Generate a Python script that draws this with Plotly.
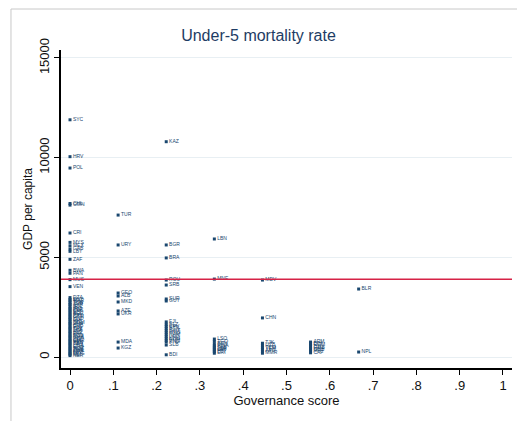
import plotly.graph_objects as go

# Governance score (k/9 levels) per country
countries = [
    "SYC", "HRV", "POL", "CHL", "OMN", "CRI", "MYS", "MEX", "GAB", "LBY",
    "ZAF", "BWA", "PAN", "MUS", "VEN",
    "DZA", "EGY", "MAR", "TUN", "JOR", "SYR", "IRN", "IRQ", "PER", "COL",
    "ECU", "BOL", "PRY", "GTM", "HND", "SLV", "NIC", "DOM", "JAM", "CUB",
    "PHL", "IDN", "THA", "LKA", "IND", "PAK", "BGD", "NGA", "GHA", "CIV",
    "CMR", "SEN", "KEN", "TZA", "UGA", "ETH", "MOZ", "ZMB", "ZWE", "MWI",
    "MDG", "MLI", "NER",
    "TUR", "URY", "GEO", "ALB", "MKD", "AZE", "UKR", "MDA", "KGZ",
    "KAZ", "BGR", "BRA", "ROU", "SRB", "SUR", "GUY", "FJI", "BLZ", "CPV",
    "BTN", "SWZ", "MNG", "NAM", "LAO", "KHM", "VNM", "PNG", "SLB", "BDI",
    "LBN", "MNE", "LSO", "TGO", "BEN", "RWA", "SLE", "LBR", "GIN", "HTI", "ERI",
    "MDV", "CHN", "TJK", "UZB", "TKM", "YEM", "AFG", "MMR",
    "ARM", "BIH", "COM", "DJI", "GMB", "GNB", "MRT", "CAF",
    "BLR", "NPL",
]
governance = (
    [0.0] * 58
    + [1 / 9] * 9
    + [2 / 9] * 20
    + [3 / 9] * 11
    + [4 / 9] * 8
    + [5 / 9] * 8
    + [6 / 9] * 2
)
gdp_per_capita = [
    11900, 10050, 9480, 7700, 7620, 6220, 5750, 5580, 5420, 5300,
    4900, 4350, 4200, 3880, 3530,
    2980, 2890, 2830, 2740, 2660, 2610, 2520, 2440, 2390, 2300,
    2240, 2150, 2090, 2010, 1940, 1880, 1790, 1720, 1660, 1590,
    1510, 1440, 1390, 1300, 1240, 1170, 1090, 1030, 960, 890,
    830, 760, 690, 640, 560, 500, 430, 370, 300, 240,
    180, 120, 70,
    7120, 5620, 3210, 3060, 2760, 2310, 2160, 750, 450,
    10800, 5620, 4970, 3860, 3610, 2910, 2810, 1760, 1640, 1540,
    1440, 1340, 1240, 1140, 1040, 940, 840, 750, 600, 110,
    5920, 3910, 900, 780, 640, 560, 480, 410, 340, 270, 190,
    3860, 1960, 690, 590, 480, 390, 290, 190,
    750, 680, 600, 520, 440, 370, 290, 210,
    3410, 250,
]

reference_line = 3900

fig = go.Figure()
fig.add_trace(go.Scatter(
    x=governance, y=gdp_per_capita, text=countries,
    mode="markers+text", textposition="middle right",
    marker=dict(size=3, color="#1a476f", symbol="square"),
    textfont=dict(size=5, color="#1a476f", family="Liberation Sans"),
    cliponaxis=False, showlegend=False,
))

fig.add_shape(type="line", xref="paper", yref="y", x0=0, x1=1,
              y0=reference_line, y1=reference_line,
              line=dict(color="#d62246", width=1.5))
# outer frame (Stata graph region border)
fig.add_shape(type="line", xref="paper", yref="paper",
              x0=-0.1109, x1=-0.1109, y0=-0.2, y1=1.1289,
              line=dict(color="#c8c8c8", width=1))
fig.add_shape(type="line", xref="paper", yref="paper",
              x0=-0.1109, x1=1.2, y0=1.1289, y1=1.1289,
              line=dict(color="#c8c8c8", width=1))

fig.update_layout(
    width=517, height=421,
    margin=dict(l=61, r=5, t=50, b=53, autoexpand=False),
    paper_bgcolor="white", plot_bgcolor="white",
    font=dict(family="Liberation Sans, Arial, sans-serif", color="#111"),
    title=dict(text="Under-5 mortality rate", x=0.5, xanchor="center",
               y=1 - 35 / 421, yanchor="middle",
               font=dict(size=16, color="#1e3c64")),
    xaxis=dict(
        range=[-0.0208, 1.0208],
        tickvals=[0, 0.1, 0.2, 0.3, 0.4, 0.5, 0.6, 0.7, 0.8, 0.9, 1],
        ticktext=["0", ".1", ".2", ".3", ".4", ".5", ".6", ".7", ".8", ".9", "1"],
        showgrid=False, zeroline=False, automargin=False,
        showline=True, linecolor="black", linewidth=1.5,
        ticks="outside", ticklen=5, tickcolor="black",
        tickfont=dict(size=13),
        title=dict(text="Governance score", font=dict(size=13), standoff=0),
    ),
    yaxis=dict(
        range=[-552, 15401],
        tickvals=[0, 5000, 10000, 15000],
        ticktext=["0", "5000", "10000", "15000"],
        showgrid=True, gridcolor="#e8eff3", gridwidth=1,
        zeroline=False, automargin=False,
        showline=True, linecolor="black", linewidth=1.5,
        ticks="outside", ticklen=5, tickcolor="black",
        tickangle=-90, tickfont=dict(size=13),
        title=dict(text="GDP per capita", font=dict(size=12), standoff=2),
    ),
)

fig.write_html("out.html", config={"displayModeBar": False},
               post_script="document.body.style.margin='0';document.body.style.overflow='hidden';")
